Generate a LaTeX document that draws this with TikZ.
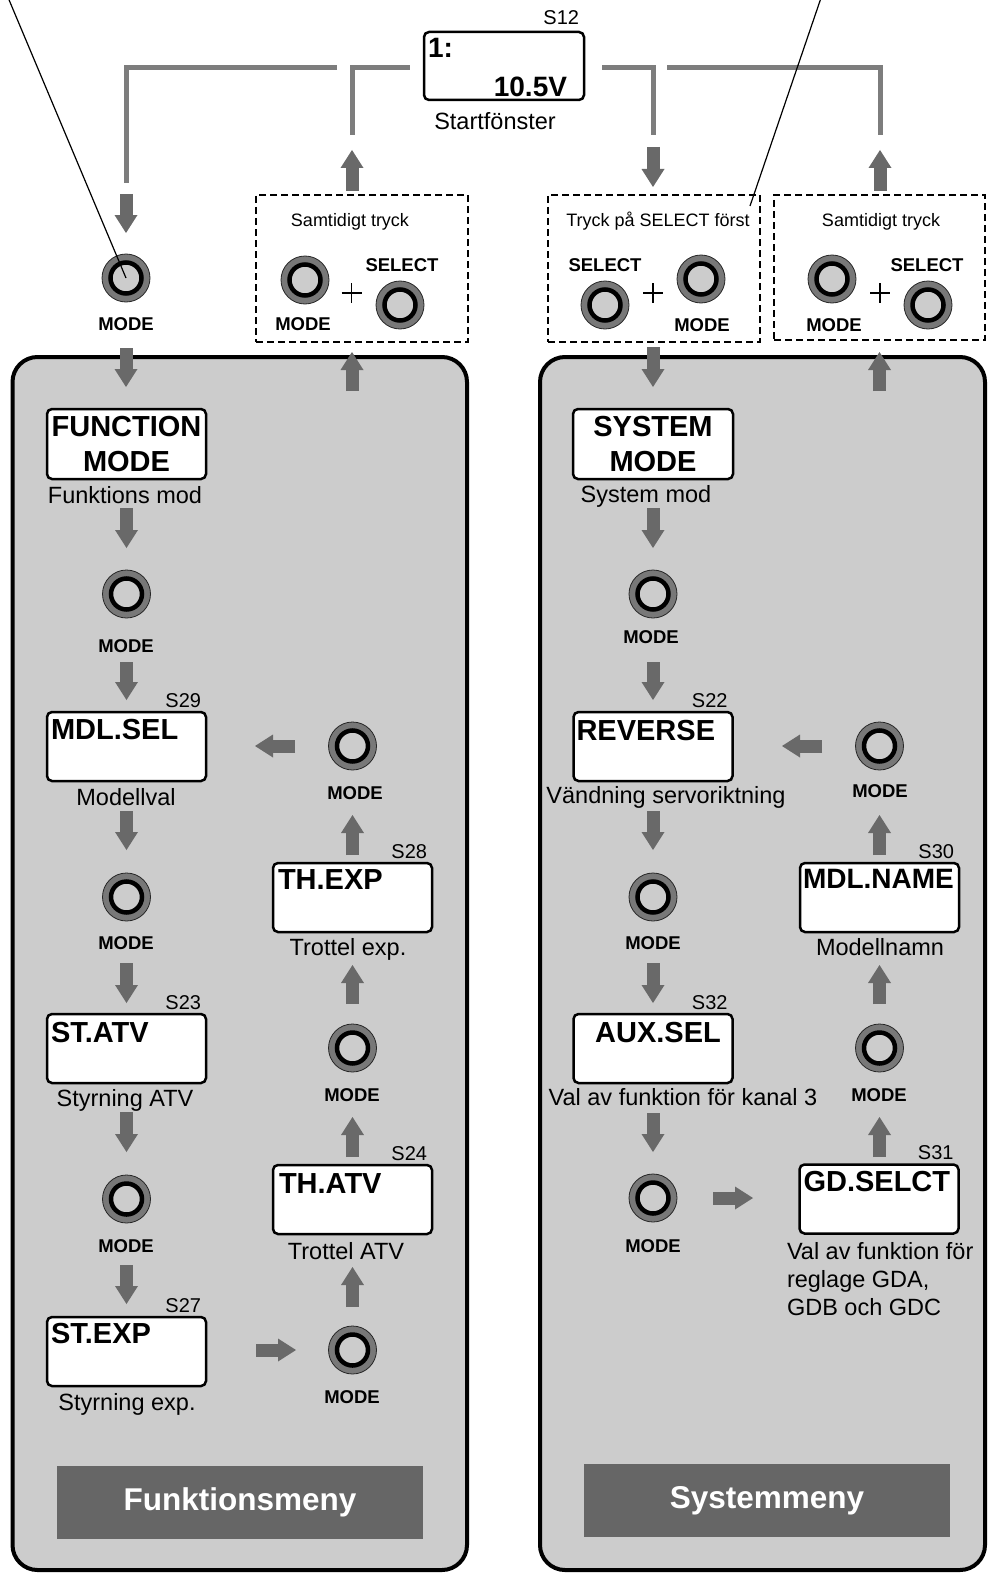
\documentclass[tikz,border=0pt]{standalone}
\usepackage{fontspec}
\setmainfont{Liberation Sans}
\usetikzlibrary{arrows.meta}
\definecolor{agray}{RGB}{105,105,105}
\definecolor{lgray}{RGB}{125,125,125}
\definecolor{pgray}{RGB}{204,204,204}
\definecolor{rgray}{RGB}{120,120,120}
\definecolor{tgray}{RGB}{102,102,102}
\begin{document}
\begin{tikzpicture}[x=1pt,y=-1pt,
 every node/.style={outer sep=0pt},
 lcd/.style={draw=black, fill=white, line width=2.5pt, rounded corners=5pt, minimum width=159pt, minimum height=69pt, inner sep=0pt},
 btn/.style={circle, minimum size=48pt, inner sep=0pt, fill=rgray, draw=black!85, line width=0.8pt,
   path picture={\draw[black, line width=4.5pt, fill=pgray] (path picture bounding box.center) circle[radius=15.5pt];}},
 barr/.style={draw=agray, line width=13pt, -{Triangle[width=23pt,length=18pt,line width=0pt 0 0]}},
 brk/.style={draw=lgray, line width=5pt},
 dbox/.style={draw=black, dash pattern=on 7pt off 4pt, line width=2.2pt, inner sep=0pt},
 panel/.style={draw=black, fill=pgray, line width=4pt, rounded corners=25pt, inner sep=0pt},
 modelbl/.style={font=\fontsize{18.5}{22}\bfseries\selectfont, anchor=base, inner sep=0pt},
 ttl/.style={font=\fontsize{29}{35}\bfseries\selectfont, inner sep=0pt, anchor=base west},
 sno/.style={font=\fontsize{20}{24}\selectfont, inner sep=0pt, anchor=base east},
 lbl/.style={font=\fontsize{23.5}{28}\selectfont, inner sep=0pt, anchor=base},
 small/.style={font=\fontsize{18}{22}\selectfont, inner sep=0pt, anchor=base},
 menu/.style={fill=tgray, text=white, font=\fontsize{31.5}{38}\bfseries\selectfont, minimum width=366pt, minimum height=73pt, inner sep=0pt},
 plus/.style={line width=1.5pt}
]
\useasboundingbox (0,0) rectangle (989,1573);

% panels
\node[panel, minimum width=454.5pt, minimum height=1213pt] (pl) at (239.75,963.5) {};
\node[panel, minimum width=445pt, minimum height=1213pt] (pr) at (762.5,963.5) {};
\node[menu] (fmenu) at (240,1502.5) {Funktionsmeny};
\node[menu] (smenu) at (767,1500.5) {Systemmeny};

% dashed boxes
\node[dbox, minimum width=212pt, minimum height=147pt] (da) at (362,268.5) {};
\node[dbox, minimum width=212pt, minimum height=147pt] (db) at (654,268.5) {};
\node[dbox, minimum width=211pt, minimum height=145pt] (dc) at (879.5,267.5) {};
\node[small] (ta) at (350,226) {Samtidigt tryck};
\node[small] (tb) at (658,226) {Tryck på SELECT först};
\node[small] (tc) at (881,226) {Samtidigt tryck};

% start window
\node[lcd, minimum width=160pt, minimum height=68pt] (s12) at (504,66) {};
\node[sno] (s12n) at ([xshift=-5pt,yshift=7pt]s12.north east) {S12};
\node[font=\fontsize{28}{34}\bfseries\selectfont, anchor=base west, inner sep=0pt] (s12a) at (428,58) {1:};
\node[font=\fontsize{28}{34}\bfseries\selectfont, anchor=base east, inner sep=0pt] (s12b) at (567,97) {10.5V};
\node[lbl] (s12l) at (495,130) {Startfönster};

% bracket lines
\draw[brk] (337,68) -- (126,68) -- (126,183);
\draw[brk] (352,135) -- (352,68) -- (410,68);
\draw[brk] (602,68) -- (653,68) -- (653,135);
\draw[brk] (667,68) -- (880,68) -- (880,135);

% top buttons
\node[btn] (b0) at (126,278) {};
\node[modelbl] (b0l) at (126,330) {MODE};
\node[btn] (am) at (305,280) {};
\node[modelbl] (aml) at (303,330) {MODE};
\node[btn] (as) at (400,305) {};
\node[modelbl] (asl) at (402,271) {SELECT};
\draw[plus] (341.5,293) -- (361.5,293) (351.5,283) -- (351.5,303);
\node[btn] (bs) at (605,305) {};
\node[modelbl] (bsl) at (605,271) {SELECT};
\node[btn] (bm) at (701,279) {};
\node[modelbl] (bml) at (702,331) {MODE};
\draw[plus] (643,293) -- (663,293) (653,283) -- (653,303);
\node[btn] (cm) at (832,279) {};
\node[modelbl] (cml) at (834,331) {MODE};
\node[btn] (cs) at (928,305) {};
\node[modelbl] (csl) at (927,271) {SELECT};
\draw[plus] (870,293) -- (890,293) (880,283) -- (880,303);

% left panel boxes
\node[lcd, minimum height=70pt, align=center, font=\fontsize{29}{35}\bfseries\selectfont] (fm) at (126.5,444) {FUNCTION\\MODE};
\node[lbl] (fml) at (125,503) {Funktions mod};
\node[btn] (bl1) at (126.5,594) {};
\node[modelbl] (bl1l) at (126,652) {MODE};
\node[lcd] (ms) at (126.5,746.5) {};
\node[ttl] (mst) at ([xshift=4pt,yshift=-27pt]ms.north west) {MDL.SEL};
\node[sno] (msn) at ([xshift=-5pt,yshift=5pt]ms.north east) {S29};
\node[lbl] (msl) at (126,805) {Modellval};
\node[btn] (bl2) at (126.5,897) {};
\node[modelbl] (bl2l) at (126,949) {MODE};
\node[lcd] (sa) at (126.5,1048.5) {};
\node[ttl] (sat) at ([xshift=4pt,yshift=-28pt]sa.north west) {ST.ATV};
\node[sno] (san) at ([xshift=-5pt,yshift=5pt]sa.north east) {S23};
\node[lbl] (sal) at (125,1106) {Styrning ATV};
\node[btn] (bl3) at (126.5,1199) {};
\node[modelbl] (bl3l) at (126,1252) {MODE};
\node[lcd] (se) at (126.5,1351.5) {};
\node[ttl] (set) at ([xshift=4pt,yshift=-26pt]se.north west) {ST.EXP};
\node[sno] (sen) at ([xshift=-5pt,yshift=5pt]se.north east) {S27};
\node[lbl] (sel) at (127,1410) {Styrning exp.};
\node[btn] (bl4) at (352.5,1350) {};
\node[modelbl] (bl4l) at (352,1403) {MODE};
\node[lcd] (ta2) at (352.5,1199.5) {};
\node[ttl] (tat) at ([xshift=6pt,yshift=-28pt]ta2.north west) {TH.ATV};
\node[sno] (tan) at ([xshift=-5pt,yshift=5pt]ta2.north east) {S24};
\node[lbl] (tal) at (346,1259) {Trottel ATV};
\node[btn] (bl5) at (352.5,1048) {};
\node[modelbl] (bl5l) at (352,1101) {MODE};
\node[lcd] (te) at (352.5,897.5) {};
\node[ttl] (tet) at ([xshift=5pt,yshift=-26pt]te.north west) {TH.EXP};
\node[sno] (ten) at ([xshift=-5pt,yshift=5pt]te.north east) {S28};
\node[lbl] (tel) at (348,955) {Trottel exp.};
\node[btn] (bl6) at (352.5,746) {};
\node[modelbl] (bl6l) at (355,799) {MODE};

% right panel boxes
\node[lcd, minimum width=160pt, minimum height=70pt, align=center, font=\fontsize{29}{35}\bfseries\selectfont] (sm) at (653,444) {SYSTEM\\MODE};
\node[lbl] (sml) at (646,502) {System mod};
\node[btn] (br1) at (653,594) {};
\node[modelbl] (br1l) at (651,643) {MODE};
\node[lcd] (rv) at (653,746.5) {};
\node[ttl] (rvt) at ([xshift=3pt,yshift=-28pt]rv.north west) {REVERSE};
\node[sno] (rvn) at ([xshift=-5pt,yshift=5pt]rv.north east) {S22};
\node[lbl] (rvl) at (666,803) {Vändning servoriktning};
\node[btn] (br2) at (653,897) {};
\node[modelbl] (br2l) at (653,949) {MODE};
\node[lcd] (ax) at (653,1048.5) {};
\node[ttl, anchor=base] (axt) at ([xshift=5pt,yshift=-28pt]ax.north) {AUX.SEL};
\node[sno] (axn) at ([xshift=-5pt,yshift=5pt]ax.north east) {S32};
\node[lbl] (axl) at (683,1105) {Val av funktion för kanal 3};
\node[btn] (br3) at (653,1198) {};
\node[modelbl] (br3l) at (653,1252) {MODE};
\node[lcd] (gd) at (879,1199) {};
\node[ttl] (gdt) at ([xshift=4pt,yshift=-27pt]gd.north west) {GD.SELCT};
\node[sno] (gdn) at ([xshift=-5pt,yshift=5pt]gd.north east) {S31};
\node[font=\fontsize{23.5}{28}\selectfont, align=left, anchor=north west, inner sep=0pt] (gdl) at (787,1242) {Val av funktion för\\reglage GDA,\\GDB och GDC};
\node[btn] (br4) at (879.5,1048) {};
\node[modelbl] (br4l) at (879,1101) {MODE};
\node[lcd] (mn) at (879.5,897.5) {};
\node[ttl, font=\fontsize{28}{34}\bfseries\selectfont] (mnt) at ([xshift=3pt,yshift=-25pt]mn.north west) {MDL.NAME};
\node[sno] (mnn) at ([xshift=-5pt,yshift=5pt]mn.north east) {S30};
\node[lbl] (mnl) at (880,955) {Modellnamn};
\node[btn] (br5) at (879.5,746) {};
\node[modelbl] (br5l) at (880,797) {MODE};

% top arrows
\coordinate (a0) at (126,194);
\draw[barr, shorten >=21pt] (a0) -- (a0 |- b0.north);
\coordinate (ua) at (352,150);
\draw[barr, shorten <=4pt] (da.north -| ua) -- (ua);
\coordinate (dbt) at (653,147);
\draw[barr, shorten >=8pt] (dbt) -- (dbt |- db.north);
\coordinate (uc) at (880,150);
\draw[barr, shorten <=4pt] (dc.north -| uc) -- (uc);

% left panel arrows
\draw[barr, shorten <=46pt, shorten >=22pt] (b0.south) -- (b0.south |- fm.north);
\coordinate (ul) at (352,391);
\draw[barr, shorten >=10pt] (ul) -- (ul |- da.south);
\draw[barr, shorten <=29pt, shorten >=22pt] (fm.south) -- (bl1.north);
\draw[barr, shorten <=44pt, shorten >=12pt] (bl1.south) -- (ms.north);
\draw[barr, shorten <=30pt, shorten >=23pt] (ms.south) -- (bl2.north);
\draw[barr, shorten <=42pt, shorten >=11pt] (bl2.south) -- (sa.north);
\draw[barr, shorten <=29pt, shorten >=23pt] (sa.south) -- (bl3.north);
\draw[barr, shorten <=42pt, shorten >=13pt] (bl3.south) -- (se.north);
\draw[barr, shorten <=50pt, shorten >=32.5pt] (bl4.west -| se.east) -- (bl4.west);
\draw[barr, shorten <=19pt, shorten >=33pt] (bl4.north) -- (ta2.south);
\draw[barr, shorten <=8pt, shorten >=45pt] (ta2.north) -- (bl5.south);
\draw[barr, shorten <=20pt, shorten >=33pt] (bl5.north) -- (te.south);
\draw[barr, shorten <=8pt, shorten >=45pt] (te.north) -- (bl6.south);
\draw[barr, shorten <=33.5pt, shorten >=49pt] (bl6.west) -- (bl6.west -| ms.east);

% right panel arrows
\draw[barr, shorten <=5pt, shorten >=22pt] (db.south -| sm.north) -- (sm.north);
\coordinate (ur) at (879.5,391);
\draw[barr, shorten >=12pt] (ur) -- (ur |- dc.south);
\draw[barr, shorten <=29pt, shorten >=22pt] (sm.south) -- (br1.north);
\draw[barr, shorten <=44pt, shorten >=12pt] (br1.south) -- (rv.north);
\draw[barr, shorten <=30pt, shorten >=23pt] (rv.south) -- (br2.north);
\draw[barr, shorten <=42pt, shorten >=11pt] (br2.south) -- (ax.north);
\draw[barr, shorten <=30pt, shorten >=22pt] (ax.south) -- (br3.north);
\draw[barr, shorten <=36pt, shorten >=46.5pt] (br3.east) -- (br3.east -| gd.west);
\draw[barr, shorten <=7.5pt, shorten >=45pt] (gd.north -| br4) -- (br4.south);
\draw[barr, shorten <=20pt, shorten >=33pt] (br4.north) -- (mn.south);
\draw[barr, shorten <=8pt, shorten >=45pt] (mn.north) -- (br5.south);
\draw[barr, shorten <=33.5pt, shorten >=49.5pt] (br5.west) -- (br5.west -| rv.east);

% pointer lines
\coordinate (p1) at (7,-5);
\coordinate (p2) at (822,-5);
\coordinate (p3) at (750,206);
\draw[line width=1.2pt] (p1) -- (b0.center);
\draw[line width=1.2pt] (p2) -- (p3);
\end{tikzpicture}
\end{document}
